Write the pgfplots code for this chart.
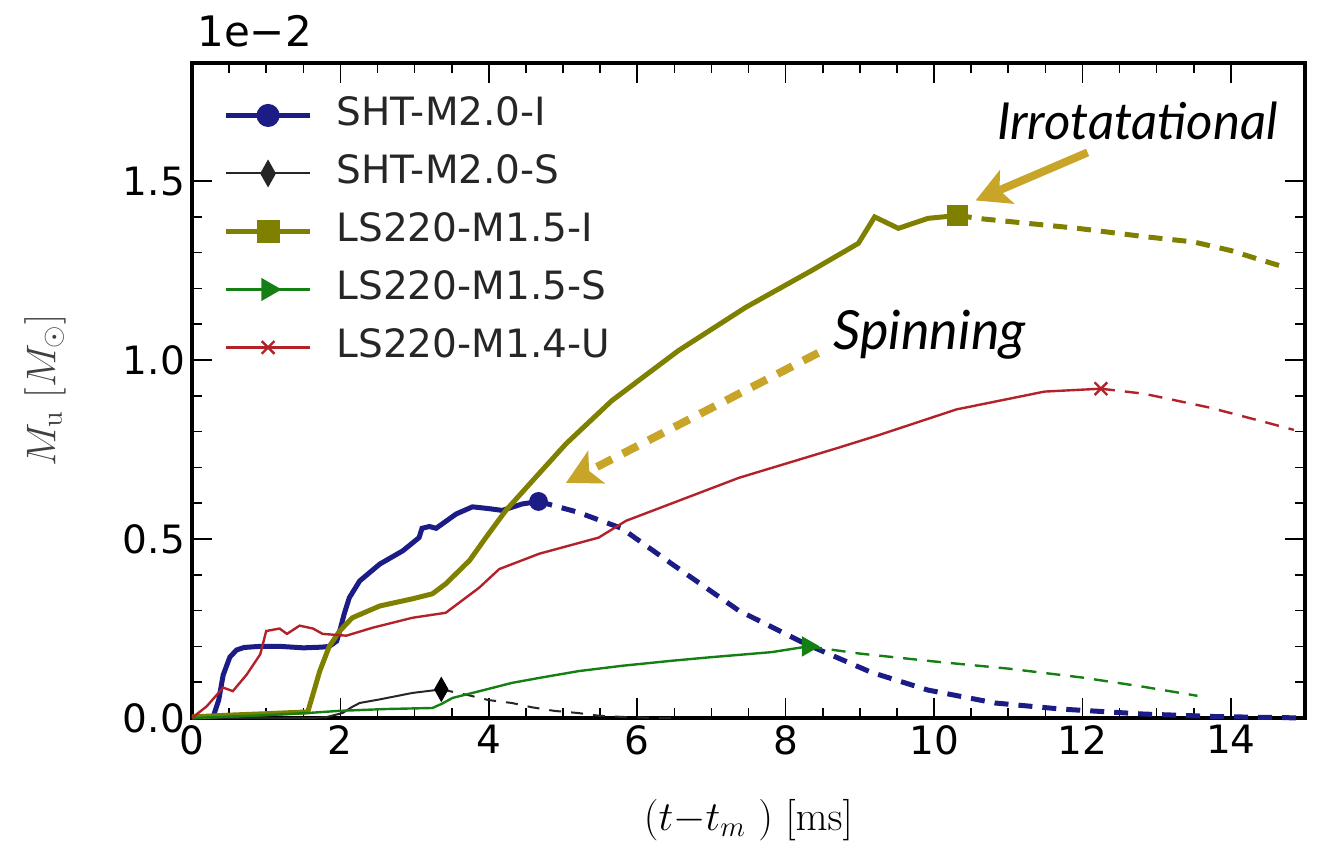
\documentclass[border=0pt]{standalone}
\usepackage[no-math]{fontspec}
\setmainfont{DejaVu Sans}
\newfontfamily\annfont{Lato}
\usepackage{pgfplots}
\pgfplotsset{compat=1.18}
\usetikzlibrary{arrows.meta}
\definecolor{cblue}{RGB}{28,28,135}
\definecolor{colive}{RGB}{128,128,0}
\definecolor{cgreen}{RGB}{20,128,20}
\definecolor{cred}{RGB}{178,34,40}
\definecolor{cgold}{RGB}{200,164,40}
\begin{document}
\begin{tikzpicture}
\begin{axis}[name=ax, scale only axis, width=556.5pt, height=327.5pt,
  xmin=0, xmax=15, ymin=0, ymax=1.83, clip=false,
  xtick={0,2,...,14}, ytick={0,0.5,1.0,1.5},
  minor x tick num=3, minor y tick num=4,
  tick align=inside,
  major tick length=10pt, minor tick length=5pt,
  tick style={black, line width=0.8pt},
  axis line style={line width=2.4pt},
  /pgf/number format/assume math mode=true,
  ticklabel style={font=\fontsize{19.5}{23}\selectfont},
  yticklabel style={/pgf/number format/.cd, fixed, fixed zerofill, precision=1},
  xlabel={$(t{-}t_m\ )\ [\mathrm{ms}]$},
  ylabel={$M_{\mathrm{u}}\ [M_\odot]$},
  label style={font=\fontsize{19.5}{23}\selectfont},
  xlabel style={at={(axis description cs:0.5,-0.156)}, anchor=center},
  ylabel style={black!75, at={(axis description cs:-0.132,0.5)}, anchor=center},
  legend style={draw=none, fill=none, at={(0.028,0.948)}, anchor=north west,
    inner sep=0pt, row sep=11pt, column sep=12pt,
    font=\fontsize{19.5}{23}\selectfont, text=black!85,
    nodes={inner sep=0pt, text height=14pt, text depth=4pt}},
  legend cell align=left,
  legend image code/.code={\draw[mark repeat=2,mark phase=2,#1] plot coordinates {(0pt,0pt) (21pt,0pt) (42pt,0pt)};},
]
% legend entries
\addlegendimage{cblue, line width=2.5pt, mark=*, mark size=4.5pt}
\addlegendentry{SHT-M2.0-I}
\addlegendimage{black!85, line width=1pt, mark=diamond*, mark size=6pt, mark options={xscale=0.75}}
\addlegendentry{SHT-M2.0-S}
\addlegendimage{colive, line width=2.5pt, mark=square*, mark size=4.5pt}
\addlegendentry{LS220-M1.5-I}
\addlegendimage{cgreen, line width=1.2pt, mark=triangle*, mark size=5.5pt, mark options={rotate=-90}}
\addlegendentry{LS220-M1.5-S}
\addlegendimage{cred, line width=1.2pt, mark=x, mark size=4.5pt}
\addlegendentry{LS220-M1.4-U}

% SHT-M2.0-I
\addplot[cblue, line width=2.5pt, forget plot] coordinates {
(0.28,0) (0.36,0.05) (0.42,0.12) (0.51,0.17) (0.6,0.19) (0.7,0.197) (0.9,0.2) (1.2,0.2) (1.5,0.196) (1.75,0.198) (1.85,0.2) (1.95,0.215) (2.0,0.25) (2.05,0.29) (2.12,0.336) (2.26,0.383) (2.53,0.43) (2.84,0.467) (3.06,0.504) (3.1,0.53) (3.2,0.535) (3.29,0.53) (3.56,0.57) (3.78,0.59) (4.0,0.585) (4.18,0.58) (4.45,0.598) (4.67,0.605)};
\addplot[cblue, line width=2.5pt, dash pattern=on 7pt off 5pt, forget plot] coordinates {
(4.67,0.605) (5.2,0.575) (5.79,0.53) (6.47,0.43) (7.37,0.3) (8.27,0.207) (9.15,0.128) (9.92,0.078) (10.82,0.042) (11.71,0.025) (12.83,0.011) (13.8,0.004) (15,0.0)};
% SHT-M2.0-S
\addplot[black!85, line width=1pt, forget plot] coordinates {
(0,0) (1.6,0.0) (1.8,0.002) (2.03,0.014) (2.15,0.03) (2.26,0.042) (2.53,0.052) (2.97,0.07) (3.36,0.08)};
\addplot[black!85, line width=1pt, dash pattern=on 6pt off 5pt, forget plot] coordinates {
(3.36,0.08) (3.7,0.065) (4.0,0.05) (4.31,0.042) (4.58,0.03) (4.88,0.02) (5.2,0.014) (5.5,0.006) (5.9,0.002) (6.5,0)};
% LS220-M1.5-I
\addplot[colive, line width=2.5pt, forget plot] coordinates {
(0,0.003) (0.5,0.008) (1.0,0.012) (1.56,0.017) (1.65,0.08) (1.72,0.13) (1.85,0.2) (1.99,0.243) (2.16,0.28) (2.53,0.313) (2.97,0.333) (3.24,0.347) (3.42,0.375) (3.74,0.44) (3.96,0.504) (4.23,0.58) (4.59,0.663) (5.04,0.766) (5.66,0.887) (6.02,0.943) (6.56,1.027) (7.46,1.147) (8.35,1.25) (8.98,1.326) (9.2,1.4) (9.52,1.368) (9.92,1.396) (10.32,1.404)};
\addplot[colive, line width=2.5pt, dash pattern=on 7pt off 5pt, forget plot] coordinates {
(10.32,1.404) (10.63,1.395) (11.94,1.368) (12.83,1.345) (13.5,1.33) (14.0,1.306) (14.4,1.28) (14.75,1.258)};
% LS220-M1.5-S
\addplot[cgreen, line width=1.2pt, forget plot] coordinates {
(0,0.0) (0.5,0.004) (1.0,0.008) (1.56,0.014) (1.99,0.02) (2.6,0.025) (3.24,0.028) (3.37,0.04) (3.51,0.056) (3.78,0.07) (4.31,0.098) (4.68,0.112) (5.21,0.131) (5.8,0.146) (6.47,0.16) (7.0,0.17) (7.81,0.184) (8.3,0.2)};
\addplot[cgreen, line width=1.2pt, dash pattern=on 7pt off 5pt, forget plot] coordinates {
(8.3,0.2) (9.0,0.18) (10.0,0.158) (11.0,0.138) (12.0,0.113) (12.8,0.088) (13.55,0.062)};
% LS220-M1.4-U
\addplot[cred, line width=1.2pt, forget plot] coordinates {
(0,0) (0.2,0.033) (0.42,0.085) (0.55,0.075) (0.74,0.122) (0.92,0.178) (1.0,0.243) (1.18,0.25) (1.28,0.235) (1.45,0.258) (1.63,0.25) (1.76,0.235) (2.08,0.23) (2.43,0.252) (2.97,0.28) (3.42,0.294) (3.87,0.364) (4.14,0.416) (4.68,0.459) (5.48,0.504) (5.85,0.551) (6.56,0.607) (7.37,0.671) (8.71,0.755) (9.25,0.79) (10.3,0.862) (11.49,0.912) (12.25,0.92)};
\addplot[cred, line width=1.2pt, dash pattern=on 7pt off 5pt, forget plot] coordinates {
(12.25,0.92) (12.83,0.906) (13.72,0.867) (14.4,0.83) (14.85,0.805)};
% end markers
\addplot[cblue, only marks, mark=*, mark size=4.5pt, forget plot] coordinates {(4.67,0.605)};
\addplot[black, only marks, mark=diamond*, mark size=6pt, mark options={xscale=0.75}, forget plot] coordinates {(3.36,0.08)};
\addplot[colive, only marks, mark=square*, mark size=5pt, forget plot] coordinates {(10.32,1.404)};
\addplot[cgreen, only marks, mark=triangle*, mark size=5.5pt, mark options={rotate=-90}, forget plot] coordinates {(8.3,0.2)};
\addplot[cred, only marks, mark=x, mark size=4.5pt, line width=1.2pt, forget plot] coordinates {(12.25,0.92)};
% annotations
\draw[cgold, line width=4pt, -{Stealth[length=17pt,width=18pt,inset=4pt]}] (axis cs:12.07,1.58) -- (axis cs:10.56,1.446);
\draw[cgold, line width=4pt, dash pattern=on 8.5pt off 6pt, -{Stealth[length=17pt,width=18pt,inset=4pt]}] (axis cs:8.44,1.02) -- (axis cs:5.04,0.657);
\node[anchor=base east, inner sep=0pt, font=\annfont\itshape\fontsize{25.5}{30}\selectfont] at (axis cs:14.64,1.617) {Irrotatational};
\node[anchor=base west, inner sep=0pt, font=\annfont\itshape\fontsize{27}{30}\selectfont] at (axis cs:8.64,1.03) {Spinning};
\end{axis}
\node[anchor=base west, inner sep=0pt, font=\fontsize{21}{24}\selectfont] at ([shift={(2.5pt,8pt)}]ax.north west) {1e−2};
\pgfresetboundingbox
\path ([shift={(-96pt,-66.5pt)}]ax.south west) rectangle ([shift={(7.5pt,31.5pt)}]ax.north east);
\end{tikzpicture}
\end{document}
